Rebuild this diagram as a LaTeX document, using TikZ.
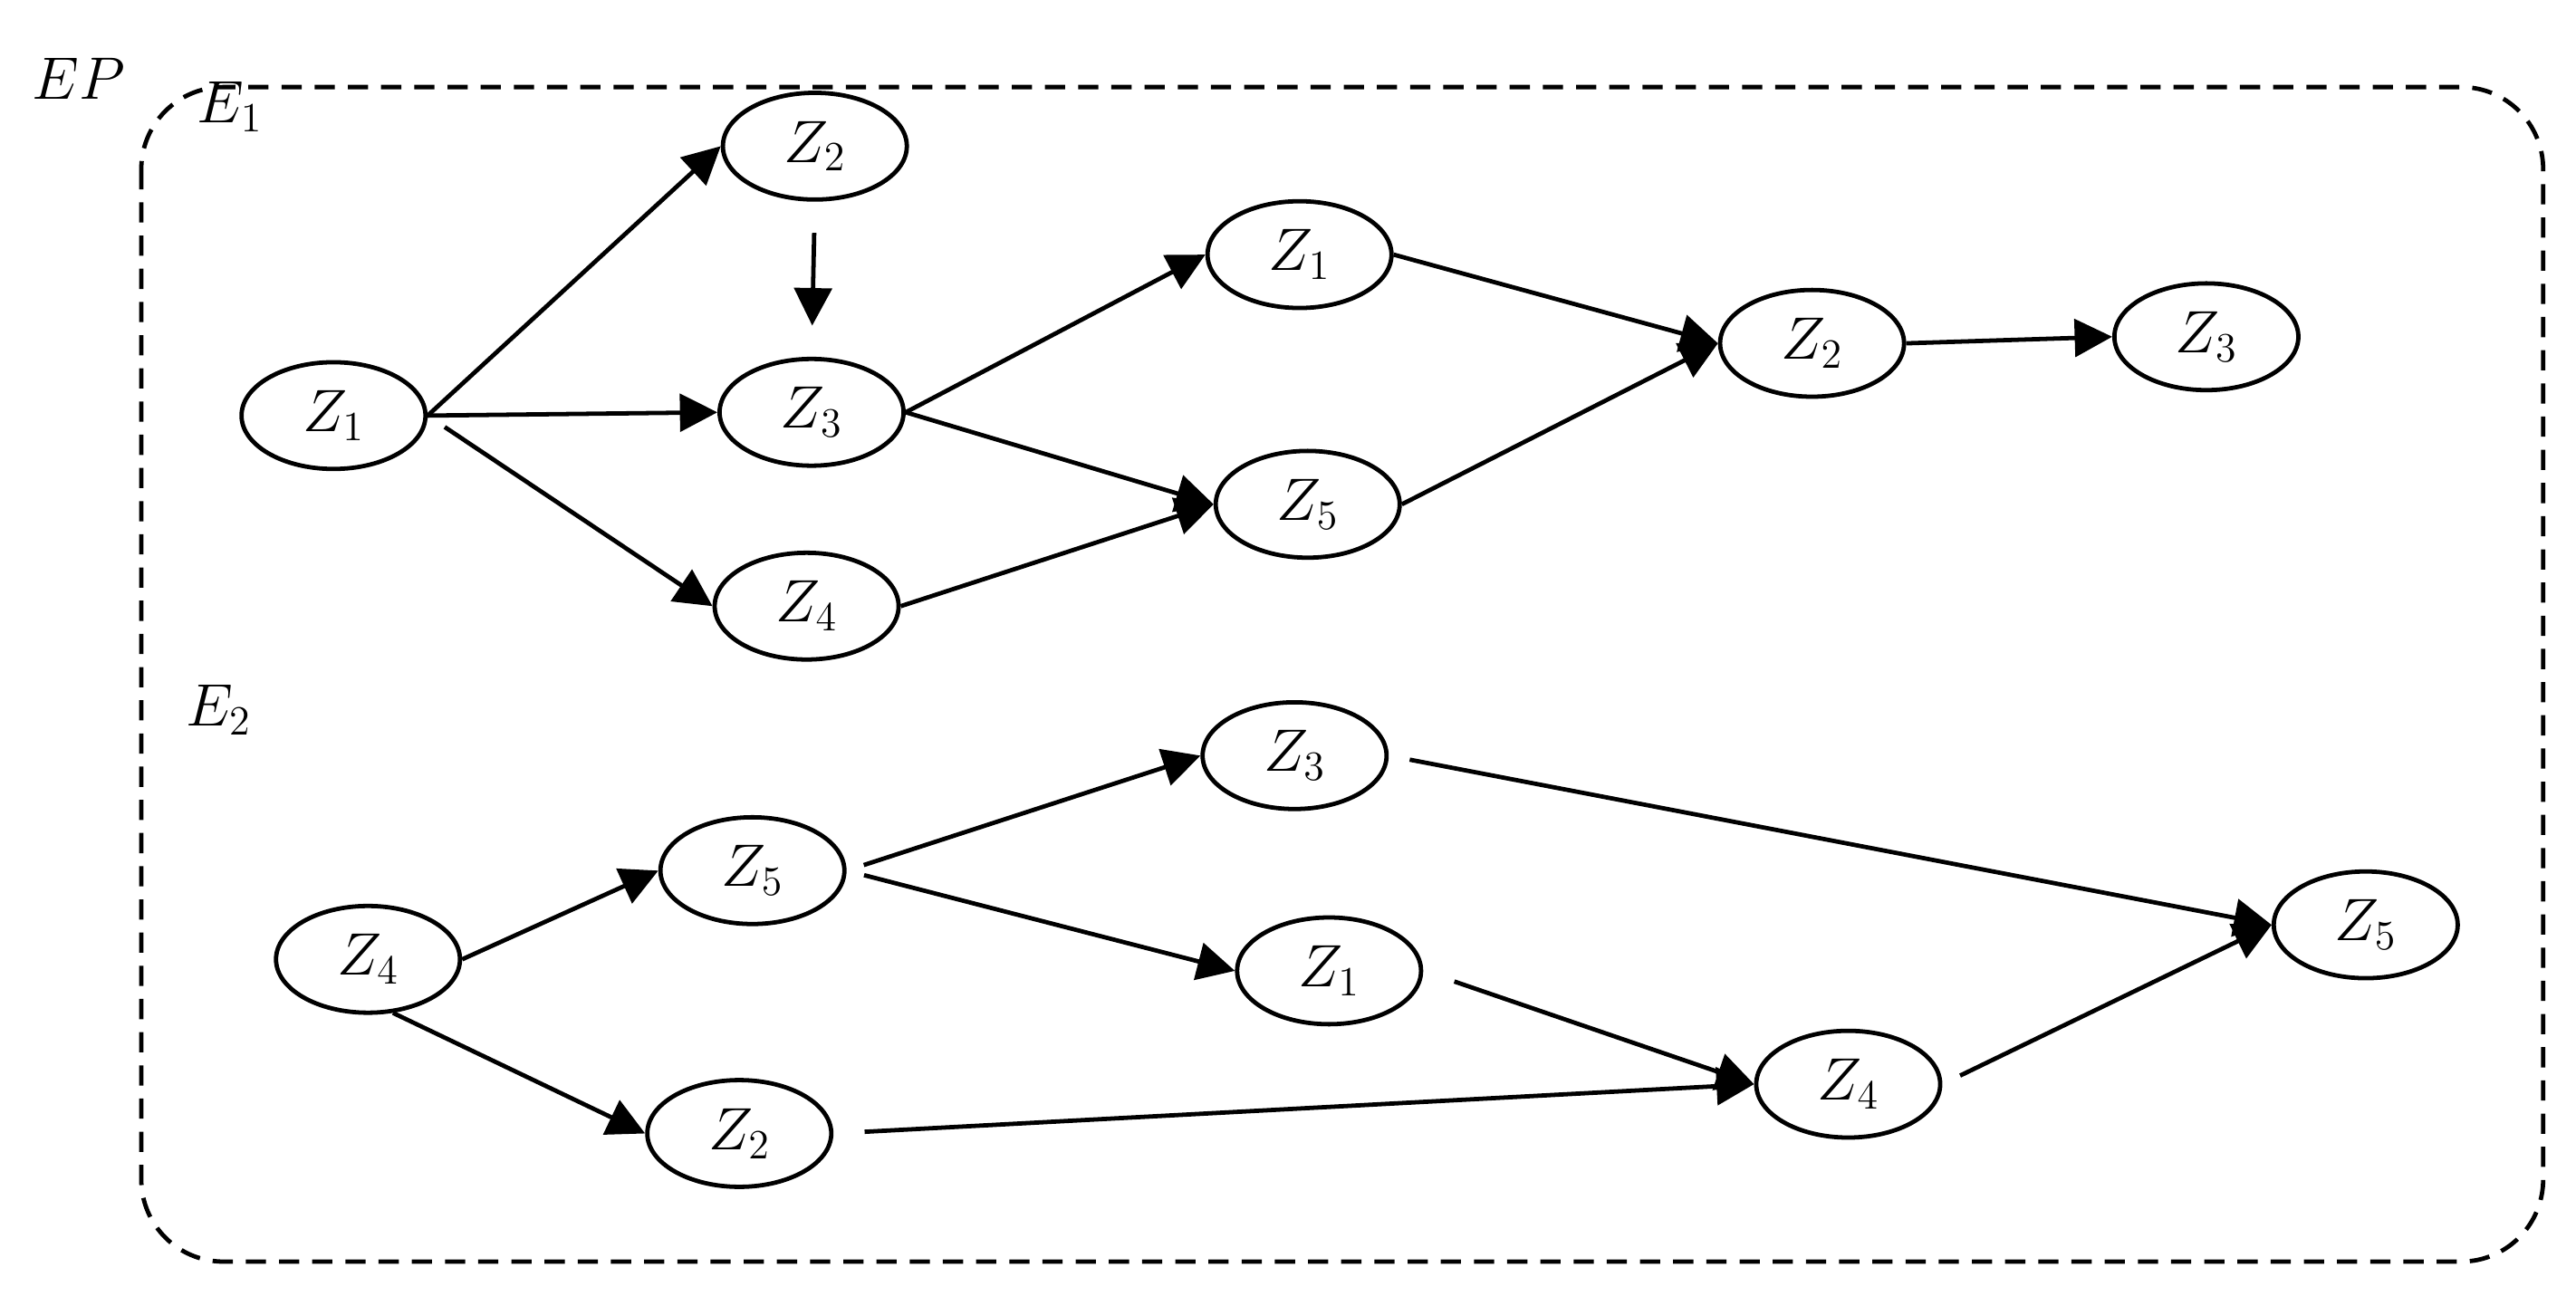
\documentclass[tikz,border=0pt]{standalone}
\usepackage{amsmath, amssymb}
\usepackage{xcolor}
\usepackage{tikz}
\usetikzlibrary{shapes.geometric, arrows.meta}

\tikzset{
  zstate/.style={ellipse, draw, line width=1.5pt, minimum width=2.24cm,
    minimum height=1.3cm, inner sep=0pt, font=\fontsize{21}{25}\selectfont},
  zarrow/.style={-{Triangle[length=13pt, width=13pt]}, line width=1.5pt},
  zlabel/.style={font=\fontsize{21}{25}\selectfont, inner sep=0pt}
}

\begin{document}
\begin{tikzpicture}[x=0.02cm, y=-0.02cm]
\useasboundingbox (0,0) rectangle (1568,794.5);

% Caixa tracejada
\draw[line width=1.5pt, dash pattern=on 7pt off 4.5pt, rounded corners=1cm]
  (86,53) rectangle (1548,768);
\node[zlabel] (EP) at (48,48) {$EP$};
\node[zlabel] (E1) at (140,65) {$E_1$};
\node[zlabel] (E2) at (133,432) {$E_2$};

% Primeiro grafo
\node[zstate] (Z1a) at (203,253) {$Z_1$};
\node[zstate] (Z2a) at (496,89) {$Z_2$};
\node[zstate] (Z3a) at (494,251) {$Z_3$};
\node[zstate] (Z4a) at (491,369) {$Z_4$};
\node[zstate] (Z1b) at (791,155) {$Z_1$};
\node[zstate] (Z5b) at (796,307) {$Z_5$};
\node[zstate] (Z2c) at (1103,209) {$Z_2$};
\node[zstate] (Z3c) at (1343,205) {$Z_3$};

\draw[zarrow] (Z1a.east) -- (Z2a.west);
\draw[zarrow] (Z1a.east) -- (Z3a.west);
\draw[zarrow, shorten <=0.25cm] (Z1a.east) -- (Z4a.west);
\draw[zarrow, shorten <=0.38cm, shorten >=0.38cm] (Z2a.south) -- (Z3a.north);
\draw[zarrow] (Z3a.east) -- (Z1b.west);
\draw[zarrow] (Z3a.east) -- (Z5b.west);
\draw[zarrow] (Z4a.east) -- (Z5b.west);
\draw[zarrow] (Z1b.east) -- (Z2c.west);
\draw[zarrow] (Z5b.east) -- (Z2c.west);
\draw[zarrow] (Z2c.east) -- (Z3c.west);

% Segundo grafo
\node[zstate] (Z4d) at (224,584) {$Z_4$};
\node[zstate] (Z5d) at (458,530) {$Z_5$};
\node[zstate] (Z3d) at (788,460) {$Z_3$};
\node[zstate] (Z1d) at (809,591) {$Z_1$};
\node[zstate] (Z2d) at (450,690) {$Z_2$};
\node[zstate] (Z4e) at (1125,660) {$Z_4$};
\node[zstate] (Z5e) at (1440,563) {$Z_5$};

\draw[zarrow] (Z4d.east) -- (Z5d.west);
\draw[zarrow] (Z4d.-65) -- (Z2d.west);
\draw[zarrow, shorten <=0.22cm] (Z5d.east) -- (Z3d.west);
\draw[zarrow, shorten <=0.22cm] (Z5d.east) -- (Z1d.west);
\draw[zarrow, shorten <=0.38cm] (Z2d.east) -- (Z4e.west);
\draw[zarrow, shorten <=0.26cm] (Z3d.east) -- (Z5e.west);
\draw[zarrow, shorten <=0.4cm] (Z1d.east) -- (Z4e.west);
\draw[zarrow, shorten <=0.24cm] (Z4e.east) -- (Z5e.west);

\end{tikzpicture}
\end{document}
